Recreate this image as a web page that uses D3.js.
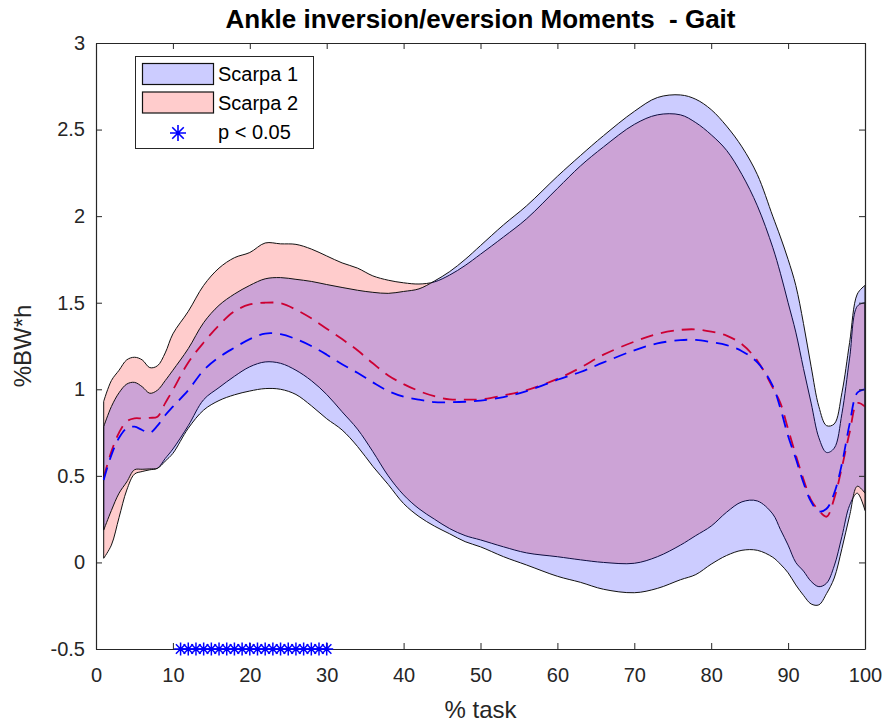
<!DOCTYPE html>
<html>
<head>
<meta charset="utf-8">
<script src="https://cdn.jsdelivr.net/npm/d3@7"></script>
<style>
  body { margin: 0; background: #fff; }
  text { font-family: "Liberation Sans", Arial, Helvetica, sans-serif; }
</style>
</head>
<body>
<div id="chart"></div>
<script>
// % of task where each curve was sampled
const pct = [1, 2, 3, 4, 5, 6, 7, 8, 9, 10,
  12, 14, 16, 18, 20, 22, 24, 26, 28, 30,
  32, 34, 36, 38, 40, 42, 44, 46, 48, 50,
  53, 56, 60, 63, 66, 70, 73, 76, 78, 80, 82, 84, 86, 88,
  89, 90, 91, 92, 93, 94, 95, 96, 97, 98, 99, 100];

// Scarpa 1 (blue)
const s1Upper = [0.784, 0.90, 0.98, 1.03, 1.04, 1.015, 0.977, 0.995, 1.05, 1.11,
  1.235, 1.385, 1.485, 1.55, 1.60, 1.638, 1.645, 1.635, 1.623, 1.605,
  1.588, 1.572, 1.56, 1.554, 1.565, 1.58, 1.625, 1.68, 1.75, 1.83,
  1.95, 2.06, 2.23, 2.35, 2.465, 2.605, 2.685, 2.70, 2.675, 2.615, 2.52, 2.40, 2.24, 2.00,
  1.88, 1.75, 1.60, 1.38, 1.13, 0.90, 0.79, 0.80, 0.98, 1.27, 1.55, 1.60];
const s1Lower = [0.187, 0.30, 0.40, 0.465, 0.535, 0.538, 0.54, 0.544, 0.585, 0.63,
  0.775, 0.88, 0.935, 0.968, 0.99, 1.004, 1.0, 0.97, 0.905, 0.83,
  0.765, 0.67, 0.555, 0.45, 0.34, 0.265, 0.21, 0.165, 0.12, 0.09,
  0.033, -0.015, -0.08, -0.115, -0.155, -0.175, -0.15, -0.10, -0.07, -0.01, 0.04, 0.07, 0.07, 0.03,
  -0.01, -0.06, -0.13, -0.19, -0.24, -0.245, -0.18, -0.09, 0.08, 0.27, 0.44, 0.40];
const s1Mean = [0.476, 0.62, 0.72, 0.775, 0.784, 0.765, 0.749, 0.79, 0.85, 0.90,
  0.995, 1.11, 1.185, 1.24, 1.29, 1.322, 1.318, 1.29, 1.25, 1.20,
  1.145, 1.095, 1.04, 0.99, 0.957, 0.94, 0.926, 0.925, 0.928, 0.935,
  0.955, 0.99, 1.055, 1.10, 1.155, 1.225, 1.265, 1.284, 1.285, 1.272, 1.255, 1.22, 1.155, 1.02,
  0.89, 0.73, 0.60, 0.46, 0.35, 0.295, 0.31, 0.40, 0.57, 0.80, 0.98, 1.0];

// Scarpa 2 (red)
const s2Upper = [0.93, 1.05, 1.11, 1.17, 1.185, 1.17, 1.125, 1.136, 1.21, 1.32,
  1.45, 1.60, 1.70, 1.76, 1.79, 1.845, 1.84, 1.837, 1.81, 1.77,
  1.73, 1.70, 1.655, 1.63, 1.615, 1.608, 1.62, 1.66, 1.715, 1.78,
  1.88, 1.985, 2.16, 2.29, 2.40, 2.53, 2.585, 2.585, 2.54, 2.47, 2.38, 2.24, 2.06, 1.82,
  1.67, 1.50, 1.33, 1.12, 0.92, 0.72, 0.635, 0.66, 0.86, 1.18, 1.48, 1.50];
const s2Lower = [0.024, 0.10, 0.26, 0.418, 0.51, 0.525, 0.535, 0.544, 0.60, 0.655,
  0.79, 0.94, 1.01, 1.075, 1.13, 1.158, 1.15, 1.11, 1.05, 0.97,
  0.87, 0.77, 0.64, 0.50, 0.39, 0.31, 0.25, 0.195, 0.155, 0.13,
  0.09, 0.055, 0.033, 0.015, 0.0, -0.005, 0.033, 0.10, 0.155, 0.21, 0.29, 0.35, 0.355, 0.28,
  0.19, 0.10, 0.0, -0.05, -0.11, -0.14, -0.12, -0.02, 0.15, 0.33, 0.40, 0.30];
const s2Mean = [0.49, 0.64, 0.75, 0.815, 0.832, 0.832, 0.835, 0.842, 0.92, 0.996,
  1.155, 1.27, 1.37, 1.45, 1.49, 1.50, 1.497, 1.46, 1.41, 1.35,
  1.29, 1.225, 1.15, 1.08, 1.03, 0.99, 0.96, 0.942, 0.94, 0.942,
  0.965, 0.995, 1.06, 1.125, 1.20, 1.275, 1.32, 1.343, 1.346, 1.333, 1.31, 1.26, 1.165, 1.01,
  0.92, 0.77, 0.62, 0.48, 0.36, 0.30, 0.264, 0.37, 0.55, 0.75, 0.92, 0.90];

// points with p < 0.05
const sigPct = [11, 12, 13, 14, 15, 16, 17, 18, 19, 20, 21, 22, 23, 24, 25, 26, 27, 28, 29, 30];

const xTicks = [0, 10, 20, 30, 40, 50, 60, 70, 80, 90, 100];
const yTicks = [-0.5, 0, 0.5, 1, 1.5, 2, 2.5, 3];
const legendLabels = ["Scarpa 1", "Scarpa 2", "p < 0.05"];

const W = 887, H = 727;
const margin = {top: 43, right: 22, bottom: 78, left: 96},
  width = W - margin.left - margin.right,
  height = H - margin.top - margin.bottom;

const svg = d3.select("#chart").append("svg")
  .attr("width", W).attr("height", H);

const g = svg.append("g")
  .attr("transform", "translate(" + margin.left + "," + margin.top + ")");

const x = d3.scaleLinear().domain([0, 100]).range([0, width]);
const y = d3.scaleLinear().domain([-0.5, 3]).range([height, 0]);

const axisColor = "#262626";
const curve = d3.curveCatmullRom.alpha(0.5);

function band(upper, lower) {
  return d3.area()
    .x(function(d, i) { return x(pct[i]); })
    .y0(function(d, i) { return y(lower[i]); })
    .y1(function(d, i) { return y(upper[i]); })
    .curve(curve)(pct);
}
function meanLine(vals) {
  return d3.line()
    .x(function(d, i) { return x(pct[i]); })
    .y(function(d, i) { return y(vals[i]); })
    .curve(curve)(pct);
}

// red band and mean first, blue drawn over it
g.append("path").attr("d", band(s2Upper, s2Lower))
  .attr("fill", "#ff0000").attr("fill-opacity", 0.2)
  .attr("stroke", "#111").attr("stroke-width", 1);
g.append("path").attr("d", meanLine(s2Mean))
  .attr("fill", "none").attr("stroke", "#ff0000")
  .attr("stroke-width", 1.8).attr("stroke-dasharray", "13,8");

g.append("path").attr("d", band(s1Upper, s1Lower))
  .attr("fill", "#0000ff").attr("fill-opacity", 0.2)
  .attr("stroke", "#111").attr("stroke-width", 1);
g.append("path").attr("d", meanLine(s1Mean))
  .attr("fill", "none").attr("stroke", "#0000ff")
  .attr("stroke-width", 1.8).attr("stroke-dasharray", "13,8");

// axes, ticks pointing inward on all sides
function styleAxis(sel) {
  sel.select(".domain").attr("stroke", axisColor).attr("stroke-width", 1.2);
  sel.selectAll(".tick line").attr("stroke", axisColor);
  sel.selectAll(".tick text").attr("fill", axisColor)
    .style("font-size", "20px");
}
// plain hyphen for negatives, like the original
const fmt = function(d) { return String(d); };

g.append("g").attr("transform", "translate(0," + height + ")")
  .call(d3.axisBottom(x).tickValues(xTicks).tickSize(-6).tickSizeOuter(0).tickPadding(19).tickFormat(fmt))
  .call(styleAxis);
g.append("g")
  .call(d3.axisTop(x).tickValues(xTicks).tickSize(-6).tickSizeOuter(0).tickFormat(""))
  .call(styleAxis);
g.append("g")
  .call(d3.axisLeft(y).tickValues(yTicks).tickSize(-6).tickSizeOuter(0).tickPadding(11).tickFormat(fmt))
  .call(styleAxis);
g.append("g").attr("transform", "translate(" + width + ",0)")
  .call(d3.axisRight(y).tickValues(yTicks).tickSize(-6).tickSizeOuter(0).tickFormat(""))
  .call(styleAxis);
g.selectAll(".tick text").attr("font-family", null);

// asterisk marker like matlab '*'
function asterisk(cx, cy, r) {
  const d = r * 0.72;
  return "M" + (cx - r) + "," + cy + "L" + (cx + r) + "," + cy +
    "M" + cx + "," + (cy - r) + "L" + cx + "," + (cy + r) +
    "M" + (cx - d) + "," + (cy - d) + "L" + (cx + d) + "," + (cy + d) +
    "M" + (cx - d) + "," + (cy + d) + "L" + (cx + d) + "," + (cy - d);
}
g.selectAll(".sig").data(sigPct).enter().append("path")
  .attr("class", "sig")
  .attr("d", function(d) { return asterisk(x(d), y(-0.5), 6.5); })
  .attr("stroke", "#0000ff").attr("stroke-width", 1.5).attr("fill", "none");

// title and labels
svg.append("text")
  .attr("x", margin.left + width / 2).attr("y", 28)
  .attr("text-anchor", "middle")
  .style("font-size", "26px").style("font-weight", "bold").attr("fill", "#000")
  .style("white-space", "pre")
  .text("Ankle inversion/eversion Moments  - Gait");

svg.append("text")
  .attr("x", margin.left + width / 2).attr("y", 718)
  .attr("text-anchor", "middle")
  .style("font-size", "24px").attr("fill", axisColor)
  .text("% task");

svg.append("text")
  .attr("transform", "translate(31," + (margin.top + height / 2) + ") rotate(-90)")
  .attr("text-anchor", "middle")
  .style("font-size", "24px").attr("fill", axisColor)
  .text("%BW*h");

// legend
const lg = svg.append("g");
lg.append("rect").attr("x", 135.5).attr("y", 56.5).attr("width", 178).attr("height", 92)
  .attr("fill", "#fff").attr("stroke", axisColor).attr("stroke-width", 1);
const swatch = ["#0000ff", "#ff0000"];
swatch.forEach(function(c, i) {
  lg.append("rect").attr("x", 142.5).attr("y", 63.5 + i * 28.5).attr("width", 71).attr("height", 21)
    .attr("fill", c).attr("fill-opacity", 0.2)
    .attr("stroke", "#111").attr("stroke-width", 1.2);
});
lg.append("path").attr("d", asterisk(178, 133, 8))
  .attr("stroke", "#0000ff").attr("stroke-width", 1.6).attr("fill", "none");
legendLabels.forEach(function(t, i) {
  lg.append("text").attr("x", 218).attr("y", 81 + i * 29)
    .style("font-size", "20px").attr("fill", "#000").text(t);
});
</script>
</body>
</html>
